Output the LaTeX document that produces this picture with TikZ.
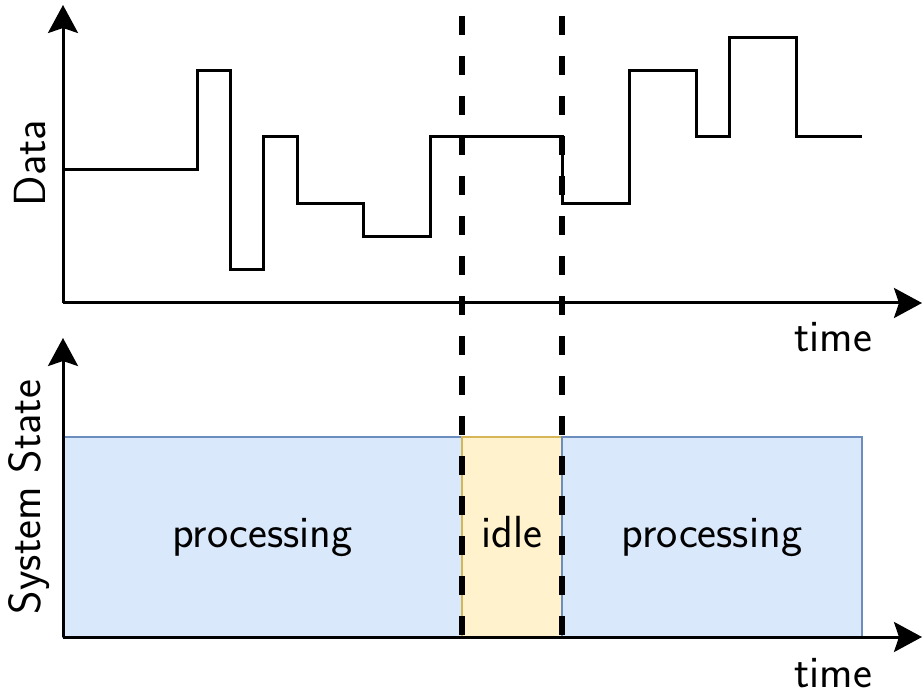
\documentclass[tikz,border=0pt]{standalone}
\usetikzlibrary{arrows.meta}
\definecolor{procfill}{HTML}{DAE8FC}
\definecolor{procline}{HTML}{6C8EBF}
\definecolor{idlefill}{HTML}{FFF2CC}
\definecolor{idleline}{HTML}{D6B656}
\begin{document}
\begin{tikzpicture}[x=1pt,y=-1pt,
  every node/.style={font=\sffamily\fontsize{45}{54}\selectfont, inner sep=0pt},
  axis/.style={line width=3pt, -{Stealth[length=28pt,width=30pt,inset=5pt]}},
  signal/.style={line width=3pt, line join=miter},
  procbox/.style={draw=procline, fill=procfill, line width=2.5pt, minimum height=200pt},
  idlebox/.style={draw=idleline, fill=idlefill, line width=2.5pt, minimum height=200pt, minimum width=100pt},
  dashline/.style={line width=6pt, dash pattern=on 19pt off 21pt},
  boxlbl/.style={anchor=base, yshift=-10pt}]
\useasboundingbox (0,0) rectangle (924,692);
% lower panel boxes
\node[procbox, minimum width=399pt] (p1) at (262.5,537) {};
\node[idlebox] (idle) at (512,537) {};
\node[procbox, minimum width=300pt] (p2) at (712,537) {};
\node[boxlbl] (tp1) at (p1.center) {processing};
\node[boxlbl] (tidle) at (idle.center) {idle};
\node[boxlbl] (tp2) at (p2.center) {processing};
% axes coordinates
\coordinate (o1) at (63,303);
\coordinate (y1) at (63,5);
\coordinate (x1) at (922,303);
\coordinate (o2) at (63,637);
\coordinate (y2) at (63,338);
\coordinate (x2) at (922,637);
\draw[axis] (o1) -- (y1);
\draw[axis] (o1) -- (x1);
\draw[axis] (o2) -- (y2);
\draw[axis] (o2) -- (x2);
% data signal
\draw[signal] (63,170) -- (197,170) -- (197,71) -- (230,71) -- (230,270) -- (263,270)
  -- (263,137) -- (297,137) -- (297,204) -- (363,204) -- (363,237) -- (430,237)
  -- (430,137) -- (562,137) -- (562,204) -- (629,204) -- (629,71) -- (696,71)
  -- (696,137) -- (729,137) -- (729,38) -- (796,38) -- (796,137) -- (862,137);
% dashed separators
\coordinate (d1t) at (461.5,16);
\coordinate (d1b) at (461.5,637);
\coordinate (d2t) at (561.5,16);
\coordinate (d2b) at (561.5,637);
\draw[dashline] (d1t) -- (d1b);
\draw[dashline] (d2t) -- (d2b);
% labels
\node[rotate=90, anchor=base] (ldata) at (45,163) {Data};
\node[rotate=90] (lstate) at (29,497) {System State};
\node[anchor=base] (lt1) at (833,352) {time};
\node[anchor=base] (lt2) at (833,687) {time};
\end{tikzpicture}
\end{document}
